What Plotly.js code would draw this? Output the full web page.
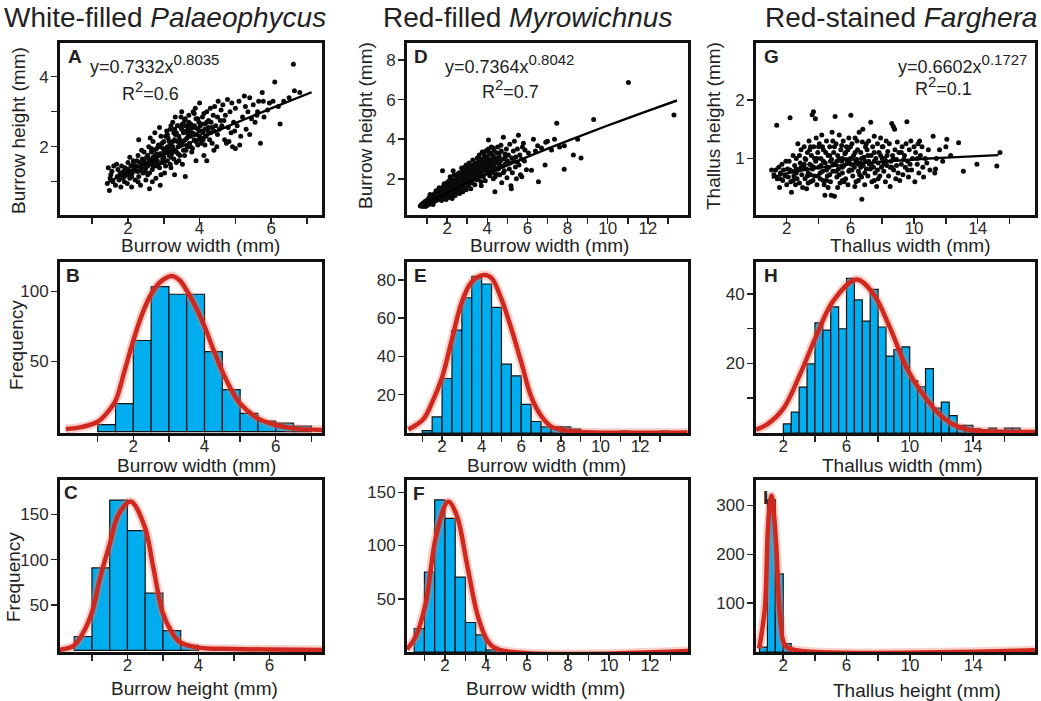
<!DOCTYPE html>
<html><head><meta charset="utf-8">
<script src="https://cdn.plot.ly/plotly-3.0.1.min.js"></script>
<style>html,body{margin:0;padding:0;background:#fff;}#chart{width:1041px;height:701px;}</style>
</head><body><div id="chart"></div>
<script>
// ---------- Panel A: white-filled Palaeophycus, burrow width vs height ----------
const scatterA = [[1.42,0.95],[1.45,1.4],[1.48,0.75],[1.5,1.1],[1.55,1.3],[1.58,1.0],[1.6,1.45],[1.52,1.2],
[1.65,0.9],[1.7,1.15],[1.72,1.35],[1.75,1.05],[1.78,1.25],[1.8,0.85],[1.82,1.45],[1.85,1.1],[1.88,1.3],[1.9,1.0],[1.68,1.5],
[1.92,1.4],[1.95,1.2],[1.98,0.95],[2.0,1.55],[2.02,1.3],[2.05,1.1],[2.08,1.45],[2.1,0.85],[2.12,1.25],[2.15,1.6],[2.18,1.35],[2.2,1.05],[2.05,1.7],[2.15,1.5],[2.0,1.35],[2.1,1.15],
[2.22,1.45],[2.25,1.3],[2.28,1.75],[2.3,2.2],[2.3,1.15],[2.32,1.55],[2.35,0.9],[2.38,1.4],[2.4,1.65],[2.42,1.25],[2.45,1.85],[2.48,1.5],[2.5,1.05],[2.25,1.6],[2.35,1.35],[2.45,1.6],[2.38,1.9],[2.28,1.0],[2.48,1.3],
[2.52,1.7],[2.55,1.45],[2.58,2.0],[2.6,0.8],[2.6,1.25],[2.62,1.6],[2.65,1.85],[2.68,1.35],[2.7,2.15],[2.72,1.55],[2.75,1.75],[2.78,1.1],[2.8,1.95],[2.55,1.2],[2.65,1.5],[2.7,1.7],[2.75,2.4],[2.62,2.25],[2.78,1.45],[2.58,1.65],[2.68,1.0],[2.72,1.9],
[2.82,1.6],[2.85,2.05],[2.88,1.4],[2.9,0.9],[2.9,1.8],[2.92,2.3],[2.95,1.55],[2.98,1.95],[3.0,1.7],[3.0,2.15],[3.02,1.25],[3.05,1.85],[3.08,2.45],[3.1,1.6],[2.85,1.75],[2.95,2.1],[3.05,1.45],[2.88,2.55],[3.1,2.0],[2.92,1.2],[3.02,1.9],[2.97,1.65],
[3.12,2.25],[3.15,1.75],[3.18,2.5],[3.2,1.4],[3.2,2.05],[3.22,1.9],[3.25,2.7],[3.28,1.65],[3.3,2.2],[3.3,1.2],[3.32,2.35],[3.35,1.85],[3.38,2.6],[3.4,2.0],[3.15,2.0],[3.25,2.15],[3.35,1.55],[3.18,1.5],[3.28,2.4],[3.38,2.15],[3.22,1.8],[3.32,2.85],
[3.42,2.3],[3.45,1.75],[3.48,2.55],[3.5,2.1],[3.5,3.0],[3.52,1.5],[3.55,2.4],[3.58,2.75],[3.6,1.15],[3.6,2.2],[3.62,1.9],[3.65,2.6],[3.68,2.35],[3.7,2.9],[3.45,2.05],[3.55,2.15],[3.65,2.0],[3.48,2.85],[3.58,1.75],[3.68,2.55],[3.42,1.6],[3.62,2.45],[3.52,2.65],
[3.72,2.1],[3.75,2.65],[3.78,1.85],[3.8,2.4],[3.82,3.0],[3.85,2.2],[3.88,2.55],[3.9,1.6],[3.9,2.8],[3.92,2.35],[3.95,2.05],[3.98,2.7],[4.0,3.25],[4.0,2.45],[3.75,2.3],[3.85,2.6],[3.95,2.5],[3.8,1.95],[3.88,3.1],[3.72,2.5],[3.98,2.2],
[4.02,2.6],[4.05,2.1],[4.08,2.85],[4.1,2.4],[4.12,1.75],[4.15,2.65],[4.18,2.3],[4.2,3.0],[4.2,1.6],[4.22,2.5],[4.25,2.75],[4.28,2.2],[4.3,3.1],[4.05,2.45],[4.15,2.05],[4.25,2.55],[4.12,2.95],[4.3,2.4],
[4.32,2.7],[4.35,2.1],[4.38,2.9],[4.4,2.45],[4.42,3.15],[4.45,2.6],[4.48,2.0],[4.5,2.85],[4.52,3.3],[4.55,2.5],[4.58,2.75],[4.6,3.05],[4.4,1.9],[4.5,2.35],
[4.62,2.6],[4.65,3.2],[4.7,2.2],[4.72,2.9],[4.75,2.1],[4.78,3.35],[4.8,2.55],[4.85,3.0],[4.88,2.4],[4.9,3.25],[4.92,2.0],[4.95,2.7],[5.0,1.95],[5.0,3.1],[4.68,2.75],[4.82,2.15],[4.98,2.45],
[5.05,2.6],[5.1,3.3],[5.15,2.3],[5.2,2.85],[5.25,3.45],[5.3,2.5],[5.35,3.0],[5.4,2.35],[5.4,3.4],[5.45,2.8],[5.5,3.2],[5.12,2.05],[5.28,3.15],
[5.55,2.7],[5.6,2.9],[5.65,3.3],[5.7,2.1],[5.75,3.55],[5.78,3.3],[5.8,2.85],[5.9,3.05],[5.95,3.25],[5.62,3.0],
[6.05,3.3],[6.1,3.85],[6.2,3.15],[6.25,2.65],[6.35,3.3],[6.5,3.4],[6.62,4.35],[6.65,3.6],[6.8,3.55],
[2.4,1.55],[2.5,1.4],[2.55,1.75],[2.6,1.55],[2.65,1.95],[2.7,1.45],[2.75,1.6],[2.8,1.8],[2.85,1.5],[2.9,2.0],[2.95,1.8],[3.0,1.55],[3.05,2.3],[3.1,1.9],[3.15,2.15],[3.2,1.7],[3.25,2.0],[3.3,1.9],[3.35,2.4],[3.4,1.8],[3.45,2.2],[3.5,2.5],[3.55,1.9],[3.6,2.6],[3.65,2.25],[3.7,2.45],[3.75,2.0],[3.8,2.55],[3.85,2.35],[3.9,2.15],[3.95,2.8],[4.0,2.3],[4.05,2.65],[4.1,2.2],[4.15,2.5],[4.2,2.7],[4.25,2.4],[3.6,2.8],[3.7,2.7],[3.4,2.6],[3.3,2.5],[2.2,1.4],[2.3,1.3],[2.1,1.3],[2.0,1.2],[1.9,1.15],[3.1,2.35],[3.2,2.6],[3.85,2.95],[4.35,2.55]];
const fitA_x = [1.4, 2, 3, 4, 5, 6, 7.13];
const fitA_y = [0.961, 1.280, 1.772, 2.234, 2.672, 3.093, 3.554];

// ---------- Panel B: histogram of burrow width (Palaeophycus) ----------
const histB_x = [1.25,1.75,2.25,2.75,3.25,3.75,4.25,4.75,5.25,5.75,6.25,6.75];
const histB_y = [5,20,65,103.5,98,98,57,30,13,7.5,6,4];
const curveB_x = [0.1,0.5,1.0,1.25,1.5,1.75,2.0,2.25,2.5,2.75,3.08,3.3,3.5,3.75,4.0,4.25,4.5,4.75,5.0,5.5,6.0,6.5,7.3];
const curveB_y = [1.9,3,7,13,22,43,65,84,98,106.5,111,108,100.7,89,75,58.5,43,30,20,9.4,4.7,2.3,1.2];

// ---------- Panel C: histogram of burrow height (Palaeophycus) ----------
const histC_x = [0.75,1.25,1.75,2.25,2.75,3.25,3.75];
const histC_y = [15.3,91,165.6,132,63,21.8,5.5];
const curveC_x = [0.05,0.48,0.76,1.0,1.23,1.5,1.75,2.09,2.48,2.73,2.99,3.25,3.48,4.0,5.0,7.48];
const curveC_y = [0.5,5,20,42,80,117,150,164,137,91,42,20,9,3,1.5,0.5];

// ---------- Panel D: red-filled Myrowichnus ----------
const scatterD = [[0.66,0.62],[0.72,0.7],[0.78,0.6],[0.8,0.78],[0.85,0.68],[0.9,0.85],[0.92,0.6],[0.95,0.75],[0.98,0.9],[1.0,0.65],
[1.02,0.82],[1.05,0.95],[1.08,0.7],[1.1,1.05],[1.12,0.85],[1.15,0.75],[1.18,1.0],[1.2,0.9],[1.22,1.15],[1.25,0.8],[1.28,1.05],[1.3,0.95],[1.32,1.2],[1.35,0.85],[1.38,1.1],[1.4,1.0],[1.42,1.3],[1.45,0.9],[1.48,1.15],[1.5,1.05],[1.15,1.2],[1.3,0.7],[1.45,1.4],
[1.52,1.25],[1.55,0.95],[1.58,1.4],[1.6,1.1],[1.62,1.3],[1.65,1.0],[1.68,1.5],[1.7,1.2],[1.72,0.9],[1.75,1.35],[1.77,2.4],[1.78,1.1],[1.8,1.6],[1.82,1.25],[1.85,1.45],[1.88,1.05],[1.9,1.7],[1.92,1.3],[1.95,1.5],[1.98,1.15],[2.0,1.8],[2.0,1.4],[1.6,1.55],[1.7,0.95],[1.85,1.75],[1.95,0.95],[1.55,1.15],[1.9,1.2],
[2.02,1.25],[2.05,1.6],[2.08,1.05],[2.1,1.9],[2.12,1.45],[2.15,1.3],[2.18,1.75],[2.2,1.1],[2.22,2.0],[2.25,1.55],[2.28,1.35],[2.3,1.85],[2.32,1.2],[2.35,2.2],[2.38,1.65],[2.4,1.45],[2.42,1.95],[2.45,1.3],[2.48,2.1],[2.5,1.7],[2.05,1.85],[2.15,2.1],[2.25,1.0],[2.35,1.5],[2.45,1.75],[2.2,1.6],[2.4,1.15],[2.3,2.4],[2.1,1.5],[2.48,1.5],
[2.52,1.4],[2.55,1.95],[2.58,1.6],[2.6,2.3],[2.62,1.25],[2.65,1.8],[2.68,2.1],[2.7,1.5],[2.72,2.55],[2.75,1.7],[2.78,1.35],[2.8,2.0],[2.82,2.35],[2.85,1.55],[2.88,2.6],[2.9,1.85],[2.92,2.2],[2.95,1.45],[2.98,2.45],[3.0,1.9],[2.55,2.25],[2.65,1.45],[2.75,2.2],[2.85,1.95],[2.95,2.7],[2.6,1.7],[2.7,1.95],[2.8,1.6],[2.9,2.35],[3.0,2.1],[2.58,2.05],[2.78,2.45],
[3.02,2.5],[3.05,1.65],[3.08,2.25],[3.1,2.8],[3.12,1.9],[3.15,2.4],[3.18,1.5],[3.2,2.1],[3.22,2.65],[3.25,1.8],[3.28,2.95],[3.3,2.3],[3.32,2.0],[3.35,2.55],[3.38,1.7],[3.4,2.8],[3.42,2.2],[3.45,2.45],[3.48,1.95],[3.5,3.05],[3.05,2.05],[3.15,2.65],[3.25,2.3],[3.35,2.1],[3.45,2.7],[3.1,1.75],[3.3,2.6],[3.4,2.35],[3.2,2.45],[3.48,2.25],
[3.52,2.4],[3.55,2.0],[3.58,2.75],[3.6,3.2],[3.62,2.2],[3.65,2.55],[3.68,1.85],[3.7,2.9],[3.72,2.35],[3.75,3.35],[3.78,2.6],[3.8,2.1],[3.82,3.0],[3.85,2.45],[3.88,2.8],[3.9,1.9],[3.92,3.4],[3.95,2.65],[3.98,2.3],[4.0,3.1],[3.55,2.85],[3.65,3.0],[3.75,2.2],[3.85,3.2],[3.95,2.5],[3.6,2.4],[3.8,2.75],[3.7,1.65],[3.9,2.55],
[4.02,2.7],[4.05,3.5],[4.06,3.96],[4.08,2.4],[4.1,2.95],[4.12,2.15],[4.15,3.25],[4.18,2.6],[4.2,3.6],[4.22,2.85],[4.25,2.3],[4.28,3.15],[4.3,2.0],[4.32,2.75],[4.35,3.4],[4.38,1.35],[4.4,2.55],[4.42,3.05],[4.45,2.25],[4.48,3.3],[4.5,2.8],[4.1,3.3],[4.3,3.55],[4.4,2.1],[4.2,2.45],
[4.52,3.6],[4.55,2.5],[4.6,3.1],[4.62,2.2],[4.65,2.9],[4.7,3.4],[4.72,1.8],[4.75,2.65],[4.8,4.1],[4.82,3.0],[4.85,2.4],[4.88,3.25],[4.9,2.75],[4.95,3.5],[4.98,2.05],[5.0,2.9],[4.6,2.7],[4.8,2.3],[4.68,3.7],
[5.05,3.2],[5.1,2.5],[5.12,3.75],[5.15,2.8],[5.2,1.5],[5.22,3.05],[5.25,2.3],[5.3,3.4],[5.32,2.9],[5.35,3.9],[5.4,2.6],[5.42,3.1],[5.45,2.0],[5.5,3.5],[5.5,2.85],[5.18,1.65],
[5.55,4.2],[5.58,2.7],[5.62,3.2],[5.65,2.2],[5.7,3.0],[5.72,2.1],[5.75,3.6],[5.8,3.8],[5.85,2.9],[5.88,3.45],[5.95,2.45],
[6.05,3.3],[6.2,2.43],[6.3,4.0],[6.4,3.4],[6.51,3.67],[6.55,1.85],[6.7,3.55],[6.88,2.7],[6.91,3.84],[7.0,3.9],[7.2,3.45],[7.35,4.0],[7.46,4.8],[7.6,3.6],[7.83,2.48],[7.84,3.67],[8.29,3.2],[8.67,3.05],[8.5,4.0],[9.3,5.0],[11.03,6.87],[13.3,5.22],
[1.55,1.05],[1.65,1.2],[1.75,1.25],[1.85,1.3],[1.95,1.35],[2.05,1.4],[2.15,1.55],[2.25,1.7],[2.35,1.6],[2.45,1.65],[2.55,1.8],[2.65,1.9],[2.75,1.85],[2.85,2.1],[2.95,2.0],[3.05,2.2],[3.15,2.1],[3.25,2.5],[3.35,2.4],[3.45,2.35],[3.55,2.6],[3.65,2.7],[3.75,2.5],[3.85,2.65],[3.95,2.9],[4.05,2.6],[4.15,2.8],[4.25,3.0],[4.35,2.85],[4.45,2.95],[3.3,2.7],[3.6,2.95],[3.9,3.0],[4.2,3.3],[4.6,3.3],[4.9,3.1],[2.9,2.5],[2.6,2.0],[3.1,2.4],[3.7,2.8]];
const fitD_x = [0.8, 1, 2, 3, 4, 6, 8, 10, 12, 13.45];
const fitD_y = [0.615, 0.736, 1.286, 1.781, 2.245, 3.111, 3.921, 4.692, 5.433, 5.955];

// ---------- Panel E ----------
const histE_x = [1.25,1.75,2.25,2.75,3.25,3.75,4.25,4.75,5.25,5.75,6.25,6.75,7.25,7.75,8.25,8.75,11.25,13.25];
const histE_y = [1.2,8.4,28.5,53.8,70.7,81.9,77.9,65.7,36,29.9,15,6,3.2,3.2,3.2,2,1,1];
const curveE_x = [0.3,1.04,1.5,2.0,2.5,3.0,3.5,4.1,4.5,5.0,5.5,6.0,6.5,7.0,7.5,8.0,9.0,14.4];
const curveE_y = [1.8,7,16,29,49,68.5,79,82.6,81,70,54.5,37,19,9,3.5,1.8,0.5,0.3];

// ---------- Panel F ----------
const histF_x = [0.75,1.25,1.75,2.25,2.75,3.25,3.75,4.25];
const histF_y = [22,75,142.8,125.4,70.3,27.7,16,2];
const curveF_x = [0.15,0.59,1.07,1.58,2.16,2.57,3.09,3.6,4.08,4.6,13.85];
const curveF_y = [2.5,15,46.6,110,141,128.6,81,34,10.4,2.5,1];

// ---------- Panel G: red-stained Farghera ----------
const scatterG = [[1.05,0.8],[1.2,0.72],[1.37,1.57],[1.4,0.65],[1.5,0.85],[1.55,0.5],[1.6,0.75],[1.7,0.9],[1.75,0.62],[1.8,0.8],[1.9,0.7],[1.95,0.95],[2.0,0.55],
[2.05,0.82],[2.1,0.68],[2.15,0.95],[2.21,1.7],[2.25,0.6],[2.3,0.42],[2.35,0.78],[2.4,1.05],[2.45,0.7],[2.5,0.88],[2.55,0.55],[2.6,1.0],[2.65,0.65],[2.7,1.25],[2.75,0.8],[2.8,0.58],[2.85,0.92],[2.9,1.15],[2.95,0.72],[3.0,0.5],[2.6,0.82],[2.8,1.05],[2.4,0.62],
[3.05,0.85],[3.1,1.2],[3.15,0.65],[3.2,0.98],[3.25,0.48],[3.3,1.1],[3.35,0.75],[3.4,1.3],[3.45,0.9],[3.5,0.6],[3.55,1.05],[3.6,1.75],[3.62,0.82],[3.68,1.8],[3.7,1.2],[3.75,0.7],[3.8,1.68],[3.82,0.95],[3.85,1.35],[3.9,0.55],[3.95,1.1],[4.0,0.85],[3.15,1.0],[3.35,0.58],[3.55,0.88],[3.75,1.0],[3.95,0.7],[3.25,0.82],[3.45,1.15],[3.65,0.62],
[4.05,1.25],[4.1,0.65],[4.15,1.0],[4.2,1.4],[4.25,0.78],[4.3,1.15],[4.35,0.55],[4.4,0.37],[4.42,0.92],[4.5,1.3],[4.55,0.7],[4.6,1.05],[4.65,0.85],[4.7,1.2],[4.75,0.6],[4.8,0.37],[4.82,0.98],[4.85,1.45],[4.9,0.78],[4.95,1.1],[5.0,0.35],[4.15,0.88],[4.3,0.62],[4.45,1.1],[4.6,0.5],[4.75,0.95],[4.9,1.3],[4.25,1.2],[4.55,0.85],[4.7,0.72],
[5.04,1.72],[5.05,0.9],[5.1,1.25],[5.15,0.68],[5.2,1.05],[5.25,0.82],[5.3,1.4],[5.35,0.58],[5.4,1.15],[5.45,0.95],[5.5,0.75],[5.55,1.3],[5.6,0.88],[5.65,1.08],[5.7,0.65],[5.75,1.2],[5.8,0.92],[5.85,0.55],[5.9,1.35],[5.95,0.8],[6.0,1.0],[5.15,0.95],[5.3,0.72],[5.45,1.22],[5.6,0.6],[5.75,0.98],[5.9,0.78],[5.2,0.5],[5.5,1.0],[5.85,1.15],
[6.03,1.74],[6.05,0.9],[6.1,1.25],[6.15,0.7],[6.2,1.05],[6.25,0.85],[6.3,1.35],[6.35,0.6],[6.4,0.98],[6.45,1.15],[6.5,0.78],[6.55,1.45],[6.6,0.92],[6.65,1.1],[6.72,0.3],[6.7,0.68],[6.75,1.28],[6.8,0.88],[6.85,1.02],[6.9,0.55],[6.95,1.2],[7.0,0.82],[6.12,1.0],[6.28,0.52],[6.42,1.3],[6.58,0.72],[6.78,1.5],[6.92,0.95],[6.35,0.95],[6.65,0.85],
[7.05,1.15],[7.1,0.7],[7.15,1.3],[7.2,0.9],[7.28,1.62],[7.3,1.05],[7.35,0.6],[7.4,1.2],[7.45,0.85],[7.5,1.38],[7.55,0.75],[7.6,1.0],[7.65,0.52],[7.7,1.25],[7.75,0.92],[7.8,1.1],[7.85,0.7],[7.9,1.35],[7.95,0.85],[8.0,1.0],[7.25,0.82],[7.5,1.1],[7.75,0.65],[7.15,0.95],
[8.05,1.2],[8.1,0.78],[8.15,1.0],[8.2,0.6],[8.25,1.3],[8.3,0.88],[8.35,1.12],[8.4,0.7],[8.45,1.25],[8.5,0.52],[8.55,0.95],[8.6,1.6],[8.65,1.05],[8.7,1.55],[8.72,0.8],[8.78,1.5],[8.8,1.15],[8.85,0.65],[8.9,0.98],[8.95,1.28],[9.0,0.75],[8.25,0.95],[8.6,0.85],
[9.05,1.1],[9.1,0.62],[9.2,0.9],[9.25,1.2],[9.3,0.72],[9.4,1.05],[9.45,0.85],[9.55,1.63],[9.5,1.25],[9.6,0.95],[9.65,0.68],[9.7,1.15],[9.8,1.3],[9.85,0.8],[9.9,1.0],[10.0,1.2],[9.35,0.98],[9.75,0.9],
[10.05,0.6],[10.1,1.1],[10.2,0.9],[10.25,1.25],[10.3,0.75],[10.4,1.05],[10.5,1.2],[10.55,0.85],[10.6,0.68],[10.7,1.0],[10.8,0.92],[10.9,1.15],[11.0,0.8],[10.35,1.3],
[11.2,1.38],[11.3,0.75],[11.35,0.82],[11.4,1.0],[11.6,1.15],[11.8,0.95],[12.06,1.33],[12.3,1.05],[12.8,1.27],[13.1,0.78],[13.95,0.9],[15.2,0.87],[15.4,1.1],[12.0,1.2],
[3.1,0.9],[3.3,0.7],[3.5,1.2],[3.7,0.85],[3.9,1.0],[4.1,0.75],[4.3,0.95],[4.5,0.8],[4.7,1.05],[4.9,0.9],[5.1,0.78],[5.3,1.0],[5.5,0.85],[5.7,1.1],[5.9,0.95],[6.1,0.8],[6.3,1.1],[6.5,0.9],[6.7,1.0],[6.9,0.75],[7.1,1.05],[7.3,0.9],[7.5,0.95],[7.7,0.8],[7.9,1.05],[8.1,0.9],[8.3,1.05],[8.5,0.85],[8.7,1.0],[8.9,0.88],[4.0,1.2],[5.0,1.2],[6.0,1.2],[7.0,1.25],[8.0,1.2],[3.5,0.72],[4.5,0.62],[5.5,0.62],[6.5,0.62],[7.5,0.62],[9.2,1.1],[9.6,0.8],[10.2,1.0],[2.6,0.75],[2.2,0.8],[1.6,0.65],[1.3,0.8],[2.9,0.85]];
const fitG_x = [1.06, 2, 4, 6, 8, 10, 12, 15.3];
const fitG_y = [0.667, 0.744, 0.839, 0.900, 0.945, 0.983, 1.014, 1.057];

// ---------- Panel H ----------
const histH_x = [2.25,2.75,3.25,3.75,4.25,4.75,5.25,5.75,6.25,6.75,7.25,7.75,8.25,8.75,9.25,9.75,10.25,10.75,11.25,11.75,12.25,12.75,13.25,13.75,14.25,15.25,16.25,16.75];
const histH_y = [2.6,6,13.2,19.9,31.7,29.6,36.3,30,44.5,38.3,32.2,41.3,30.5,22.1,24,24.8,15.1,13.3,18.5,7.2,8.9,5,2.2,2.2,1.2,1.4,1.4,1.4];
const curveH_x = [0.27,0.95,2.0,3.05,4.0,5.16,6.64,7.7,8.75,9.8,10.86,11.9,13.0,14.0,17.93];
const curveH_y = [1,2.4,7,16.8,27,38,44.2,40,30.3,18.8,11,5.3,1.9,0.8,0.3];

// ---------- Panel I ----------
const histI_x = [0.75,1.25,1.75,2.25];
const histI_y = [10,312,160,17];
const curveI_x = [0.48,0.84,1.05,1.26,1.54,1.79,2.1,2.63,17.9];
const curveI_y = [7,90,262,320,228,76,14,5,3.4];

// ---------- tick labels ----------
const ticks7 = [1,2,3,4,5,6,7];
const ticks7_text = ['','2','','4','','6',''];
const ticks13 = [1,2,3,4,5,6,7,8,9,10,11,12,13];
const ticks13_text = ['','2','','4','','6','','8','','10','','12',''];
const ticks16 = [2,4,6,8,10,12,14,16];
const ticks16_text = ['2','','6','','10','','14',''];

// ---------- layout helpers ----------
const W = 1041, H = 701;
const FONT = 'Liberation Sans, Arial, Helvetica, sans-serif';
const colX = [[60,322],[407,688],[756,1035]];
const rowY = [[43,215],[262,433],[480,652]];
const dx = c => [colX[c][0]/W, colX[c][1]/W];
const dy = r => [1-rowY[r][1]/H, 1-rowY[r][0]/H];

function axis(domain, range, anchor, tickvals, ticktext, isX) {
  return {domain, range, anchor, tickvals, ticktext, tickmode:'array',
    showline:true, mirror:true, linecolor:'#111', linewidth:3,
    ticks:'outside', ticklen:6, tickwidth:1.5, tickcolor:'#222',
    ticklabelstandoff: isX ? -10 : -1,
    showgrid:false, zeroline:false, fixedrange:true,
    tickfont:{family:FONT, size:17, color:'#2a2a2a'}};
}

const BAR = '#00AEEF', RED = 'rgb(208,40,30)', HALO = 'rgba(235,120,100,0.35)';
function scatterTraces(pts, fx, fy, xa, ya) {
  return [
    {type:'scatter', mode:'markers', x:pts.map(p=>p[0]), y:pts.map(p=>p[1]), xaxis:xa, yaxis:ya,
     marker:{color:'#0a0a0a', size:5}, hoverinfo:'skip'},
    {type:'scatter', mode:'lines', x:fx, y:fy, xaxis:xa, yaxis:ya, line:{color:'#000', width:2.4, shape:'spline'}, hoverinfo:'skip'}
  ];
}
function histTraces(hx, hy, cx, cy, xa, ya) {
  return [
    {type:'bar', x:hx, y:hy, width:0.5, xaxis:xa, yaxis:ya,
     marker:{color:BAR, line:{color:'#111', width:1.2}}, hoverinfo:'skip'},
    {type:'scatter', mode:'lines', x:cx, y:cy, xaxis:xa, yaxis:ya, line:{color:HALO, width:9, shape:'spline', smoothing:1}, hoverinfo:'skip'},
    {type:'scatter', mode:'lines', x:cx, y:cy, xaxis:xa, yaxis:ya, line:{color:RED, width:4.5, shape:'spline', smoothing:1}, hoverinfo:'skip'}
  ];
}

const data = [].concat(
  scatterTraces(scatterA, fitA_x, fitA_y, 'x', 'y'),
  histTraces(histB_x, histB_y, curveB_x, curveB_y, 'x2', 'y2'),
  histTraces(histC_x, histC_y, curveC_x, curveC_y, 'x3', 'y3'),
  scatterTraces(scatterD, fitD_x, fitD_y, 'x4', 'y4'),
  histTraces(histE_x, histE_y, curveE_x, curveE_y, 'x5', 'y5'),
  histTraces(histF_x, histF_y, curveF_x, curveF_y, 'x6', 'y6'),
  scatterTraces(scatterG, fitG_x, fitG_y, 'x7', 'y7'),
  histTraces(histH_x, histH_y, curveH_x, curveH_y, 'x8', 'y8'),
  histTraces(histI_x, histI_y, curveI_x, curveI_y, 'x9', 'y9')
);

function ann(px, py, text, size, opts) {
  return Object.assign({xref:'paper', yref:'paper', x:px/W, y:1-py/H, text, showarrow:false,
    xanchor:'left', yanchor:'middle', font:{family:FONT, size, color:'#222'}}, opts||{});
}
const sup = s => '<sup><span style="font-size:15px">' + s + '</span></sup>';
const annotations = [
  ann(165, 17, 'White-filled <i>Palaeophycus</i>', 28, {xanchor:'center'}),
  ann(527, 17, 'Red-filled <i>Myrowichnus</i>', 28, {xanchor:'center'}),
  ann(901, 17, 'Red-stained <i>Farghera</i>', 28, {xanchor:'center'}),
  // panel letters
  ann(66, 56, '<b>A</b>', 19), ann(412, 57, '<b>D</b>', 19), ann(762, 57, '<b>G</b>', 19),
  ann(64, 275, '<b>B</b>', 19), ann(412, 275, '<b>E</b>', 19), ann(762, 275, '<b>H</b>', 19),
  ann(62, 492, '<b>C</b>', 19), ann(411, 493, '<b>F</b>', 19), ann(761, 497, '<b>I</b>', 19),
  // equations
  ann(88, 64, 'y=0.7332x' + sup('0.8035'), 18), ann(120, 91, 'R' + sup('2') + '=0.6', 18),
  ann(443, 64, 'y=0.7364x' + sup('0.8042'), 18), ann(480, 89, 'R' + sup('2') + '=0.7', 18),
  ann(1029, 64, 'y=0.6602x' + sup('0.1727'), 18, {xanchor:'right'}), ann(913, 86, 'R' + sup('2') + '=0.1', 18),
  // x axis titles
  ann(200, 246, 'Burrow width (mm)', 19, {xanchor:'center'}),
  ann(549, 246, 'Burrow width (mm)', 19, {xanchor:'center'}),
  ann(910, 246, 'Thallus width (mm)', 19, {xanchor:'center'}),
  ann(196, 465, 'Burrow width (mm)', 19, {xanchor:'center'}),
  ann(546, 465, 'Burrow width (mm)', 19, {xanchor:'center'}),
  ann(902, 465, 'Thallus width (mm)', 19, {xanchor:'center'}),
  ann(194, 688, 'Burrow height (mm)', 19, {xanchor:'center'}),
  ann(545, 688, 'Burrow width (mm)', 19, {xanchor:'center'}),
  ann(917, 690, 'Thallus height (mm)', 19, {xanchor:'center'}),
  // y axis titles
  ann(18, 131, 'Burrow height (mm)', 19, {xanchor:'center', textangle:-90}),
  ann(16, 345, 'Frequency', 19, {xanchor:'center', textangle:-90}),
  ann(13, 577, 'Frequency', 19, {xanchor:'center', textangle:-90}),
  ann(365, 126, 'Burrow height (mm)', 19, {xanchor:'center', textangle:-90}),
  ann(713, 126, 'Thallus height (mm)', 19, {xanchor:'center', textangle:-90})
];

const layout = {
  width:W, height:H, margin:{l:0,r:0,t:0,b:0}, paper_bgcolor:'#fff', plot_bgcolor:'#fff',
  showlegend:false, font:{family:FONT, color:'#222'}, bargap:0,
  xaxis:  axis(dx(0), [0.1, 7.42], 'y',  ticks7, ticks7_text, true),
  yaxis:  axis(dy(0), [0.05, 4.96], 'x', [1,2,3,4], ['','2','','4']),
  xaxis2: axis(dx(0), [-0.06, 7.3], 'y2', ticks7, ticks7_text, true),
  yaxis2: axis(dy(1), [-1, 121], 'x2', [50,100], ['50','100']),
  xaxis3: axis(dx(0), [0.1, 7.48], 'y3', ticks7, ticks7_text, true),
  yaxis3: axis(dy(2), [-1.8, 187.8], 'x3', [50,100,150], ['50','100','150']),
  xaxis4: axis(dx(1), [0, 14], 'y4', ticks13, ticks13_text, true),
  yaxis4: axis(dy(0), [0.17, 8.86], 'x4', [2,4,6,8], ['2','4','6','8']),
  xaxis5: axis(dx(1), [0.23, 14.42], 'y5', ticks13, ticks13_text, true),
  yaxis5: axis(dy(1), [0, 89.4], 'x5', [20,40,60,80], ['20','40','60','80']),
  xaxis6: axis(dx(1), [0.15, 13.85], 'y6', ticks13, ticks13_text, true),
  yaxis6: axis(dy(2), [0, 161.5], 'x6', [50,100,150], ['50','100','150']),
  xaxis7: axis(dx(2), [0.07, 17.6], 'y7', ticks16, ticks16_text, true),
  yaxis7: axis(dy(0), [0.03, 2.98], 'x7', [1,2], ['1','2']),
  xaxis8: axis(dx(2), [0.27, 17.93], 'y8', ticks16, ticks16_text, true),
  yaxis8: axis(dy(1), [0, 49.2], 'x8', [10,20,30,40], ['','20','','40']),
  xaxis9: axis(dx(2), [0.28, 17.9], 'y9', ticks16, ticks16_text, true),
  yaxis9: axis(dy(2), [0, 352], 'x9', [100,200,300], ['100','200','300']),
  annotations
};

Plotly.newPlot('chart', data, layout, {displayModeBar:false, staticPlot:true});
</script></body></html>
